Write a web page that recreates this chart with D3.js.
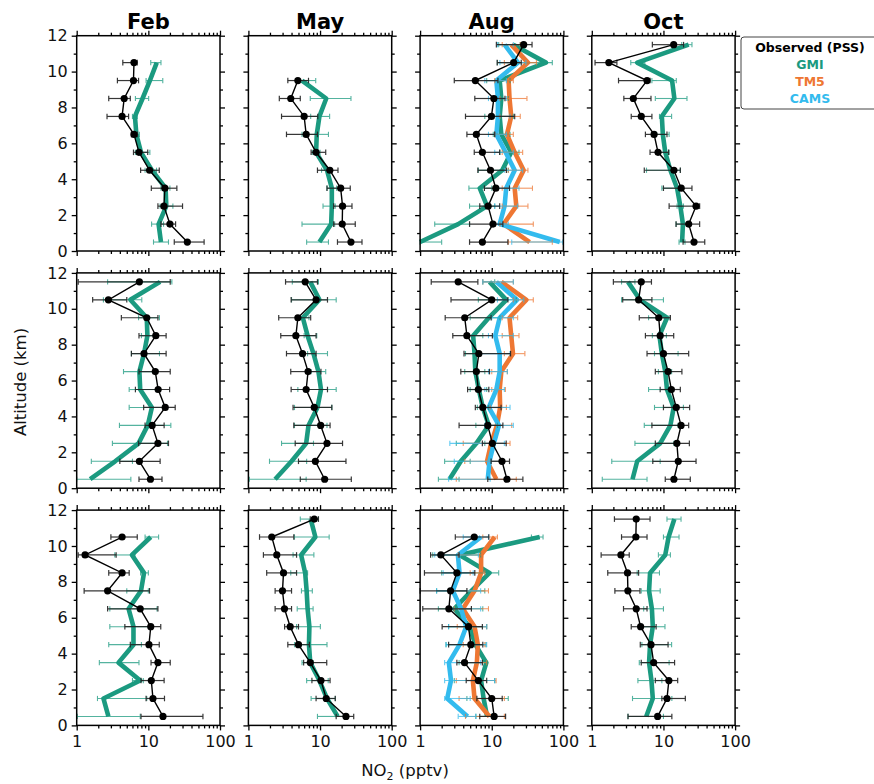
<!DOCTYPE html>
<html><head><meta charset="utf-8">
<script src="https://cdn.jsdelivr.net/npm/d3@7"></script>
<style>body{margin:0;background:#fff} text{font-family:"DejaVu Sans",sans-serif}</style>
</head><body><svg id="c" width="874" height="784"></svg>
<script>
// [altitude km, value pptv, lower, upper]
const obsFeb1=[[0.5,35,23,60],[1.5,20,15,24],[2.5,16.5,13.6,30],[3.5,17,11,25],[4.5,10.4,7.8,14.2],[5.5,7.4,6.2,9.8],[6.5,6.3,5.8,7.0],[7.5,4.3,2.65,5.3],[8.5,4.6,2.8,5.6],[9.5,6.2,3.7,7.3],[10.5,6.3,4.4,7.0]];
const gmiFeb1=[[0.5,15,11.8,19.1],[1.5,13.9,11.1,16.3],[2.5,17.8,14.6,22],[3.5,17.4,15,20],[4.5,11.2,9,13],[5.5,7.9,6.6,10.5],[6.5,6.8,6,7.5],[7.5,6.5,6,7],[8.5,8.3,6.6,10.1],[9.5,10.5,9.3,15.9],[10.5,13.1,10.8,15]];
const obsMay1=[[0.5,27,17.5,38.5],[1.5,20.4,15.5,31],[2.5,20.6,15.5,27.9],[3.5,19.4,12.5,26.4],[4.5,13.7,9.2,17.8],[5.5,8.8,7.5,12],[6.5,6.4,3.4,9.2],[7.5,6.0,2.9,9.3],[8.5,3.9,2.7,5.3],[9.5,4.9,3.55,6.9]];
const gmiMay1=[[0.5,9.8,6.5,13.1],[1.5,14.3,5.6,16],[2.5,14.6,11,16.3],[3.5,14.6,12.5,17],[4.5,12.5,10.5,14.5],[5.5,8.8,7.8,10],[6.5,9.0,5.6,13.1],[7.5,9.8,7.4,13.6],[8.5,12.2,7.3,27],[9.5,5.6,5.0,8.7]];
const obsAug1=[[0.5,7.4,4.9,16.8],[1.5,10.4,4.9,14.3],[2.5,8.9,6.8,12.9],[3.5,11.4,7.9,17.7],[4.5,9.6,6.4,16],[5.5,7.4,5.7,12.9],[6.5,6.1,4.5,11],[7.5,9.9,4.3,20.9],[8.5,10.7,5.8,15.3],[9.5,5.9,3.0,12.2],[10.5,20.2,11.9,25.8],[11.5,27.9,11.6,36.5]];
const gmiAug1=[[0.5,1.0,1.0,2.0],[1.5,3.4,1.6,4.9],[2.5,8.6,4.9,11],[3.5,6.8,4.8,10],[4.5,14,6.5,17],[5.5,18.7,13,24],[6.5,13.6,10.5,18],[7.5,12.9,8,20],[8.5,13.6,10,17],[9.5,12.9,8.5,18],[10.5,57,12,70],[11.5,20,12.5,25]];
const tm5Aug1=[[0.5,33.8,17,70],[1.5,14.6,13,38],[2.5,22,14,32],[3.5,20.9,14,37],[4.5,27.9,17,32],[5.5,20.9,14,27],[6.5,16.3,11,20],[7.5,18.7,13,25],[8.5,17.7,13,31],[9.5,17.2,11,20],[10.5,32,15,42],[11.5,18.7,14,25]];
const camsAug1=[[0.5,89,19,98],[1.5,12.9,10,17],[2.5,15.1,11,23],[3.5,15.9,11,24],[4.5,20.9,15,27],[5.5,15.6,11,20],[6.5,11.6,9,16],[7.5,12.2,10,18],[8.5,12.2,9,16],[9.5,11.6,8,16],[10.5,23.2,13,30],[11.5,15.1,12,20]];
const obsOct1=[[0.5,26.7,18.8,37.7],[1.5,22.5,15,32],[2.5,28.5,12,32],[3.5,17.7,10,25],[4.5,14,5.4,17.2],[5.5,8.4,6.5,11.8],[6.5,7.4,5.6,11.2],[7.5,4.9,3.55,6.9],[8.5,3.8,2.8,6.7],[9.5,5.9,2.36,6.5],[10.5,1.73,1.11,2.24],[11.5,13.9,7,19.1]];
const gmiOct1=[[0.5,18.2,16.5,20],[1.5,18.7,15,21],[2.5,17.2,15.5,19],[3.5,15.5,9.5,18],[4.5,12.5,5.8,17.2],[5.5,10.6,8.5,12],[6.5,9.8,8,12],[7.5,9.5,8.8,13],[8.5,14.2,7.7,21.3],[9.5,13.2,6.9,15.1],[10.5,4.3,3.5,5.5],[11.5,22.5,18,25]];

const obsFeb2=[[0.5,10.7,7.4,15.5],[1.5,7.5,4.0,14.6],[2.5,13.6,7.3,19.1],[3.5,11.3,9.0,16.6],[4.5,17.2,8.6,23.7],[5.5,13.7,6.6,19.8],[6.5,12.5,7.4,20.2],[7.5,8.7,5.8,17.7],[8.5,12.7,7.4,17.7],[9.5,9.5,4.2,13.6],[10.5,2.77,1.67,5.0],[11.5,7.5,1.05,20.2]];
const gmiFeb2=[[0.5,1.54,1.0,5.7],[1.5,3.44,1.6,6.0],[2.5,7.3,3.15,18.5],[3.5,9.8,3.95,20.6],[4.5,11.2,5.4,16],[5.5,7.7,5.4,13],[6.5,7.5,4.5,12.5],[7.5,8.7,5.8,14.3],[8.5,9.7,8,12],[9.5,9.5,7.3,14.3],[10.5,5.6,2.36,8.1],[11.5,14.6,2.7,21.3]];
const obsMay2=[[0.5,11.6,5.3,27.3],[1.5,8.6,5.0,23],[2.5,12.5,4.5,20.6],[3.5,10.2,4.3,13.8],[4.5,8.3,4.2,14.6],[5.5,6.4,3.95,12.7],[6.5,6.8,3.9,10.3],[7.5,5.7,3.4,8.8],[8.5,4.6,2.83,8.8],[9.5,4.9,2.65,7.4],[10.5,8.8,3.95,12.7],[11.5,6.2,3.3,9.2]];
const gmiMay2=[[0.5,2.36,1.03,6.4],[1.5,4.0,1.97,6.5],[2.5,6.4,2.9,8.1],[3.5,6.9,4.4,12.5],[4.5,9.2,4.4,14.6],[5.5,10.3,4.9,16.8],[6.5,9.5,7.5,12],[7.5,8.1,6.7,12.7],[8.5,6.7,6.0,9],[9.5,5.75,5.0,7.0],[10.5,9.8,4.0,16.8],[11.5,7.3,4.1,9.5]];
const obsAug2=[[0.5,16.3,8.8,27.2],[1.5,13.9,9.8,17.7],[2.5,10.2,7.4,15.9],[3.5,8.8,3.5,14.3],[4.5,7.5,5.9,13.5],[5.5,6.5,4.6,9.1],[6.5,6.1,3.7,9.3],[7.5,6.6,4.1,18.3],[8.5,4.5,2.86,10.2],[9.5,4.2,2.24,9.8],[10.5,10.0,2.7,16.8],[11.5,3.4,1.43,6.4]];
const gmiAug2=[[0.5,2.57,1.8,3.5],[1.5,3.7,2.2,5],[2.5,6.1,3.2,8],[3.5,9.1,6,12],[4.5,7.5,6.3,9],[5.5,6.6,5,8.5],[6.5,5.9,4.2,8],[7.5,5.75,4.3,7],[8.5,5.5,4.5,7.5],[9.5,9.1,5,13],[10.5,16,6.5,22],[11.5,9.3,7.5,11]];
const tm5Aug2=[[0.5,11.6,3.2,22],[1.5,8.6,4.2,13],[2.5,9.8,4,18],[3.5,11.8,9,19],[4.5,13.1,9.5,16],[5.5,12.9,10,15.5],[6.5,13.6,10,16.5],[7.5,19.8,15,29],[8.5,18.7,14,24],[9.5,17.7,14,23],[10.5,30.4,20,38],[11.5,13.6,7.5,20]];
const camsAug2=[[0.5,8.8,2.5,9.5],[1.5,9.3,3,14],[2.5,10.7,2.6,15],[3.5,12.6,8,20],[4.5,9.1,8,18],[5.5,11.6,8,15],[6.5,12.9,9,16.5],[7.5,12.9,6.5,18],[8.5,11.2,9,20],[9.5,12.9,10,20],[10.5,22.5,12,28],[11.5,11.6,7.5,20]];
const obsOct2=[[0.5,14.0,10.6,23.7],[1.5,16.1,7.1,28.5],[2.5,15.4,7.7,23.0],[3.5,17.6,6.9,22.5],[4.5,15.1,10,23.2],[5.5,12.9,9.0,17.2],[6.5,11.6,7.7,18.1],[7.5,10.0,5.9,22.5],[8.5,9.0,5.6,13.9],[9.5,8.6,4.6,12.5],[10.5,4.5,2.7,6.9],[11.5,4.9,2.0,6.8]];
const gmiOct2=[[0.5,3.7,1.4,5.9],[1.5,4.3,1.9,9.0],[2.5,9.0,4.0,14],[3.5,12.5,5.4,16],[4.5,13.9,7.5,19],[5.5,11.2,6.2,13],[6.5,10.6,8.5,13],[7.5,9.5,7.5,16],[8.5,8.8,7,11],[9.5,11.2,6.2,12],[10.5,4.7,2.6,10],[11.5,3.2,2.6,4.0]];

const obsFeb3=[[0.5,16.0,7.9,57.8],[1.5,11.6,9.3,16.8],[2.5,11.0,7.9,16.6],[3.5,13.6,10.9,20.2],[4.5,10.2,5.6,14.2],[5.5,10.8,4.7,14.9],[6.5,7.7,2.7,13.6],[7.5,2.7,1.27,10.4],[8.5,4.3,2.8,5.4],[9.5,1.31,1.05,3.55],[10.5,4.3,3.0,7.0]];
const gmiFeb3=[[0.5,2.77,1.02,7.7],[1.5,2.36,1.95,9.5],[2.5,7.7,6.0,8.5],[3.5,3.83,2.07,7.4],[4.5,6.2,2.8,8],[5.5,6.2,2.9,10.6],[6.5,5.3,2.9,13.2],[7.5,7.9,5,10],[8.5,8.7,7.8,10],[9.5,5.9,3.4,6.5],[10.5,10.8,9.0,13.9]];
const obsMay3=[[0.5,23,16.8,29.5],[1.5,12.2,8.8,16.3],[2.5,10.3,7.7,13.8],[3.5,7.3,5.9,12.4],[4.5,5.0,3.55,7.1],[5.5,3.83,3.2,5.0],[6.5,3.19,2.36,4.0],[7.5,2.99,2.36,4.0],[8.5,3.09,1.8,4.7],[9.5,2.49,1.62,4.7],[10.5,2.12,1.43,4.3],[11.5,8.3,7.3,9.5]];
const gmiMay3=[[0.5,17.6,9.2,23.7],[1.5,12.5,7.5,16.3],[2.5,9.8,6.5,13],[3.5,7.3,5.6,8],[4.5,7.0,4.4,12.5],[5.5,7.1,4.7,10.1],[6.5,6.7,4.8,8.0],[7.5,6.5,5.5,7.8],[8.5,6.2,3.9,6.7],[9.5,5.45,4.2,8.2],[10.5,8.6,4.4,13.4],[11.5,7.4,5.3,9.5]];
const obsAug3=[[0.5,10.8,6.8,15.6],[1.5,10.0,6.2,14],[2.5,6.5,4.4,8.5],[3.5,4.17,3.26,7.4],[4.5,5.1,2.5,7.5],[5.5,4.74,2.03,7.4],[6.5,2.52,1.09,5.2],[7.5,2.66,1.0,4.5],[8.5,3.26,1.15,5.8],[9.5,1.95,1.4,3.5],[10.5,5.7,3.1,9.1]];
const gmiAug3=[[0.5,8.6,6,10],[1.5,7.7,4.5,17],[2.5,7.1,3,11],[3.5,8.4,3.5,8.5],[4.5,5.9,2.3,8.3],[5.5,4.9,2.5,8.5],[6.5,3.0,1.8,7.5],[7.5,5.2,1.7,8],[8.5,9.3,2,12.5],[9.5,3.55,1.5,7],[10.5,46.7,35.8,52]];
const tm5Aug3=[[0.5,9.3,4.3,15],[1.5,5.75,3.5,15],[2.5,5.45,3.2,11.5],[3.5,6.2,4.5,8.5],[4.5,6.4,4,8],[5.5,5.75,3.3,8.5],[6.5,3.95,3,9],[7.5,5.75,2.8,9],[8.5,7.1,5,8],[9.5,7.1,3.4,7.5],[10.5,11.0,7.5,12]];
const camsAug3=[[0.5,4.6,3.4,6],[1.5,2.39,2.2,5],[2.5,2.7,2.2,11],[3.5,2.52,2.2,7],[4.5,3.55,2.3,8.5],[5.5,4.4,2.5,8.5],[6.5,3.74,2.5,7],[7.5,2.86,1.7,7],[8.5,3.55,2.1,5.5],[9.5,3.37,1.6,6.5],[10.5,7.1,4,9]];
const obsOct3=[[0.5,8.3,3.2,13.1],[1.5,11.2,9.5,20.2],[2.5,11.9,7.7,15.8],[3.5,7.3,4.9,14.3],[4.5,6.7,4.75,11.6],[5.5,4.8,3.55,7.9],[6.5,4.17,2.77,5.9],[7.5,3.19,2.1,4.7],[8.5,3.15,1.67,4.5],[9.5,2.55,1.35,3.33],[10.5,4.12,2.6,5.9],[11.5,4.17,2.07,6.5]];
const gmiOct3=[[0.5,5.75,3.2,10],[1.5,7.1,3.7,13.1],[2.5,6.8,4.4,9.5],[3.5,6.3,4.6,12],[4.5,6.5,5,13],[5.5,7.1,4.8,10.5],[6.5,6.9,5.3,10],[7.5,6.3,4.9,9],[8.5,6.5,4.3,8.8],[9.5,10.6,8.5,12.5],[10.5,11.8,10,16.5],[11.5,14.2,11.2,17.6]];

const months=["Feb","May","Aug","Oct"];
const yTicks=[0,2,4,6,8,10,12];
const yMinor=[1,3,5,7,9,11];
const xTicks=[1,10,100];
const xMinor=[2,3,4,5,6,7,8,9,20,30,40,50,60,70,80,90];
const legendLabels=["Observed (PSS)","GMI","TM5","CAMS"];
const colors={obs:"#000000",gmi:"#1b9a80",tm5:"#ee7733",cams:"#33bbee"};

const panels=[
 [{obs:obsFeb1,gmi:gmiFeb1},{obs:obsMay1,gmi:gmiMay1},{obs:obsAug1,gmi:gmiAug1,tm5:tm5Aug1,cams:camsAug1},{obs:obsOct1,gmi:gmiOct1}],
 [{obs:obsFeb2,gmi:gmiFeb2},{obs:obsMay2,gmi:gmiMay2},{obs:obsAug2,gmi:gmiAug2,tm5:tm5Aug2,cams:camsAug2},{obs:obsOct2,gmi:gmiOct2}],
 [{obs:obsFeb3,gmi:gmiFeb3},{obs:obsMay3,gmi:gmiMay3},{obs:obsAug3,gmi:gmiAug3,tm5:tm5Aug3,cams:camsAug3},{obs:obsOct3,gmi:gmiOct3}]
];

const W=143.3,H=215.3,left0=76.7,colStep=171.7,top0=35.7,rowStep=237.2;
const x=d3.scaleLog().domain([1,100]).range([0,W]);
const y=d3.scaleLinear().domain([0,12]).range([H,0]);
const svg=d3.select("#c");
const line=d3.line().x(d=>x(d[1])).y(d=>y(d[0]));

function errbars(g,data,color,sw,op,cap){
  const eg=g.append("g").attr("stroke",color).attr("stroke-width",sw).attr("opacity",op);
  data.forEach(d=>{
    eg.append("line").attr("x1",x(d[2])).attr("x2",x(d[3])).attr("y1",y(d[0])).attr("y2",y(d[0]));
    [d[2],d[3]].forEach(v=>eg.append("line").attr("x1",x(v)).attr("x2",x(v)).attr("y1",y(d[0])-cap).attr("y2",y(d[0])+cap));
  });
}

panels.forEach((row,r)=>{
  row.forEach((p,c)=>{
    const g=svg.append("g").attr("transform",`translate(${left0+c*colStep},${top0+r*rowStep})`);
    // axes
    const axL=d3.axisLeft(y).tickValues(yTicks).tickSize(5).tickFormat(c===0?d3.format("d"):"");
    const axR=d3.axisRight(y).tickValues(yTicks).tickSize(5).tickFormat("");
    const axB=d3.axisBottom(x).tickValues(xTicks).tickSize(5).tickFormat(r===2?d3.format("d"):"");
    const axT=d3.axisTop(x).tickValues(xTicks).tickSize(5).tickFormat("");
    const mL=d3.axisLeft(y).tickValues(yMinor).tickSize(3).tickFormat("");
    const mR=d3.axisRight(y).tickValues(yMinor).tickSize(3).tickFormat("");
    const mB=d3.axisBottom(x).tickValues(xMinor).tickSize(3).tickFormat("");
    const mT=d3.axisTop(x).tickValues(xMinor).tickSize(3).tickFormat("");
    const add=(ax,tr)=>{const a=g.append("g").attr("transform",tr).call(ax);a.select(".domain").remove();
      a.selectAll("line").attr("stroke","#000").attr("stroke-width",1.3);
      a.selectAll("text").attr("font-size",16).attr("fill","#111").attr("font-family","DejaVu Sans");return a;};
    const aL=add(axL,"translate(0,0)"); aL.selectAll("text").attr("x",-9);
    add(axR,`translate(${W},0)`);
    const aB=add(axB,`translate(0,${H})`); aB.selectAll("text").attr("y",10);
    add(axT,"translate(0,0)");
    add(mL,"translate(0,0)");add(mR,`translate(${W},0)`);add(mB,`translate(0,${H})`);add(mT,"translate(0,0)");

    const models=["gmi","tm5","cams"].filter(k=>p[k]);
    models.forEach(k=>{
      g.append("path").datum(p[k]).attr("d",line).attr("fill","none").attr("stroke",colors[k])
        .attr("stroke-width",4.6).attr("stroke-linejoin","round").attr("stroke-linecap","butt");
    });
    models.forEach(k=>errbars(g,p[k],colors[k],1.1,0.75,2.6));
    errbars(g,p.obs,"#222",1.2,0.9,2.8);
    g.append("path").datum(p.obs).attr("d",line).attr("fill","none").attr("stroke","#000").attr("stroke-width",1.4);
    g.selectAll("circle.o").data(p.obs).enter().append("circle").attr("cx",d=>x(d[1])).attr("cy",d=>y(d[0])).attr("r",3.6).attr("fill","#000");

    g.append("rect").attr("width",W).attr("height",H).attr("fill","none").attr("stroke","#000").attr("stroke-width",1.5);
    if(r===0){
      g.append("text").attr("x",W/2).attr("y",-7).attr("text-anchor","middle").attr("font-size",21)
        .attr("font-weight","bold").attr("fill","#000").text(months[c]);
    }
  });
});

// axis titles
svg.append("text").attr("transform","translate(26,382) rotate(-90)").attr("text-anchor","middle")
  .attr("font-size",16.5).attr("fill","#111").text("Altitude (km)");
const xl=svg.append("text").attr("x",405).attr("y",776).attr("text-anchor","middle").attr("font-size",16.5).attr("fill","#111");
xl.append("tspan").text("NO");
xl.append("tspan").attr("font-size",11).attr("dy",4).text("2");
xl.append("tspan").attr("dy",-4).text(" (pptv)");

// legend
const lg=svg.append("g");
lg.append("rect").attr("x",741).attr("y",37).attr("width",150).attr("height",72).attr("rx",3)
  .attr("fill","#fff").attr("stroke","#444").attr("stroke-width",1);
const lgColors=[colors.obs,colors.gmi,colors.tm5,colors.cams];
legendLabels.forEach((t,i)=>{
  lg.append("text").attr("x",810).attr("y",52+i*17).attr("text-anchor","middle").attr("font-size",12.5)
    .attr("font-weight","bold").attr("fill",lgColors[i]).text(t);
});
</script></body></html>
